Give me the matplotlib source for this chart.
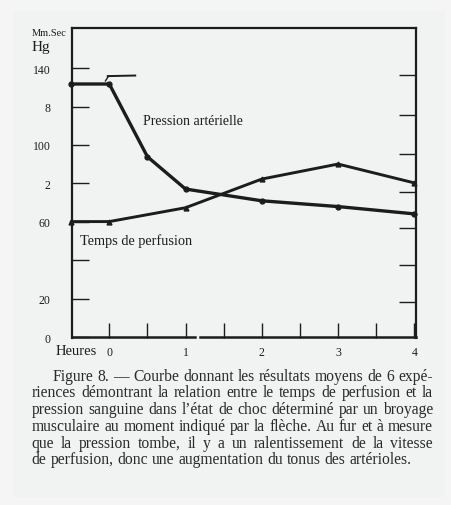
import matplotlib.pyplot as plt
from matplotlib.patches import Rectangle

# --- DATA ---
# time in hours (the first point is the control reading before the crush)
PRESSURE_HOURS = [-0.5, 0, 0.5, 1, 2, 3, 4]
PRESSURE_VALUES = [131.7, 131.7, 93.9, 77.1, 71.0, 68.0, 64.2]
PERFUSION_HOURS = [-0.5, 0, 1, 2, 3, 4]
PERFUSION_VALUES = [60.2, 60.2, 67.4, 82.3, 90.1, 80.3]

# left scale ticks and their printed labels
Y_TICKS = [0, 20, 40, 60, 80, 100, 120, 140]
Y_LABELS = ["0", "20", "", "60", "2", "100", "8", "140"]
# right scale (perfusion time), ticks only
RIGHT_TICKS = [18.3, 37.7, 56.7, 75.7, 95.3, 115.7, 136.4]
X_MAJOR = [0, 1, 2, 3, 4]
X_MINOR = [0.5, 1.5, 2.5, 3.5]

# moment of the crush
ARROW_TIME = 0
ARROW_LEVEL = 135.8

CAPTION = [
    "Figure 8. \u2014 Courbe donnant les r\u00e9sultats moyens de 6 exp\u00e9-",
    "riences d\u00e9montrant la relation entre le temps de perfusion et la",
    "pression sanguine dans l\u2019\u00e9tat de choc d\u00e9termin\u00e9 par un broyage",
    "musculaire au moment indiqu\u00e9 par la fl\u00e8che. Au fur et \u00e0 mesure",
    "que la pression tombe, il y a un ralentissement de la vitesse",
    "de perfusion, donc une augmentation du tonus des art\u00e9rioles.",
]

# --- STYLE ---
W, H = 452, 506
INK = "#1c1c1c"
BG = "#f1f2f2"
SERIF = ["Liberation Serif", "DejaVu Serif"]
CAPTION_SIZE = 11.25

fig = plt.figure(figsize=(W / 100, H / 100), dpi=100, facecolor="#f5f5f5")
fig.patches.append(Rectangle((13 / W, 1 - 498 / H), 432 / W, 486 / H,
                             transform=fig.transFigure, facecolor=BG,
                             edgecolor="none", zorder=-10))

ax = fig.add_axes([71.7 / W, 1 - 339 / H, 344.3 / W, 310 / H])
ax.set_facecolor(BG)
ax.set_xlim(-0.493, 4.022)
ax.set_ylim(-0.3, 160.8)

# curves
ax.plot(PRESSURE_HOURS, PRESSURE_VALUES, color=INK, lw=2.4, marker="o",
        ms=3.5, solid_capstyle="round", clip_on=False, zorder=3)
ax.plot(PERFUSION_HOURS, PERFUSION_VALUES, color=INK, lw=2.1, marker="^",
        ms=3.5, solid_capstyle="round", clip_on=False, zorder=3)

# arrow marking the crush
ax.plot([ARROW_TIME - 0.02, ARROW_TIME + 0.34], [ARROW_LEVEL, ARROW_LEVEL + 0.3],
        color=INK, lw=1.4)
ax.plot([ARROW_TIME - 0.05, ARROW_TIME - 0.01], [ARROW_LEVEL - 2.5, ARROW_LEVEL],
        color=INK, lw=1.0)

# frame: bottom line is broken between 1 and 1.5 h
for side in ["left", "right", "top"]:
    ax.spines[side].set_color(INK)
    ax.spines[side].set_linewidth(1.6)
ax.spines["bottom"].set_visible(False)
ax.plot([-0.493, 1.13], [0, 0], color=INK, lw=1.8, clip_on=False)
ax.plot([1.19, 4.022], [0, 0], color=INK, lw=1.8, clip_on=False)

# ticks
ax.set_xticks(X_MAJOR)
ax.set_xticklabels([str(x) for x in X_MAJOR], family=SERIF, fontsize=8.5)
ax.set_xticks(X_MINOR, minor=True)
ax.tick_params(axis="x", which="both", direction="in", length=11,
               width=1.0, color=INK, pad=6, labelcolor=INK)

ax.set_yticks(Y_TICKS)
ax.set_yticklabels(Y_LABELS, family=SERIF, fontsize=8.5)
ax.tick_params(axis="y", direction="in", length=12, width=1.0,
               color=INK, pad=15, labelcolor=INK)

# right-hand scale
ax2 = ax.twinx()
ax2.set_ylim(ax.get_ylim())
ax2.set_yticks(RIGHT_TICKS)
ax2.set_yticklabels([])
ax2.tick_params(axis="y", direction="in", length=12, width=1.0, color=INK)
for s in ax2.spines.values():
    s.set_visible(False)

# labels
fig.text(32 / W, 1 - 33 / H, "Mm.Sec", family=SERIF, fontsize=7.5,
         color=INK, va="center", ha="left")
fig.text(32 / W, 1 - 47 / H, "Hg", family=SERIF, fontsize=11,
         color=INK, va="center", ha="left")
fig.text(56 / W, 1 - 352 / H, "Heures", family=SERIF, fontsize=10.5,
         color=INK, va="center", ha="left")
ax.text(0.438, 112.6, "Pression art\u00e9rielle", family=SERIF, fontsize=10,
        color=INK, va="center", ha="left")
ax.text(-0.384, 50.8, "Temps de perfusion", family=SERIF, fontsize=10.3,
        color=INK, va="center", ha="left")

# justified caption
renderer = fig.canvas.get_renderer()
left, right, indent = 31.7, 433.0, 53.0
top, step = 376.7, 16.7
for i, line in enumerate(CAPTION):
    words = line.split(" ")
    y = 1 - (top + i * step) / H
    x0 = indent if i == 0 else left
    texts = [fig.text(0, y, w, family=SERIF, fontsize=CAPTION_SIZE,
                      color="#2a2a2a", va="center", ha="left") for w in words]
    widths = [t.get_window_extent(renderer).width for t in texts]
    if i < len(CAPTION) - 1:
        gap = (right - x0 - sum(widths)) / (len(words) - 1)
    else:
        space = fig.text(0, 0, "a a", family=SERIF, fontsize=CAPTION_SIZE)
        two = fig.text(0, 0, "aa", family=SERIF, fontsize=CAPTION_SIZE)
        gap = (space.get_window_extent(renderer).width
               - two.get_window_extent(renderer).width)
        space.remove()
        two.remove()
    x = x0
    for t, w in zip(texts, widths):
        t.set_x(x / W)
        x += w + gap

fig.savefig("out.png", dpi=100, facecolor=fig.get_facecolor())
